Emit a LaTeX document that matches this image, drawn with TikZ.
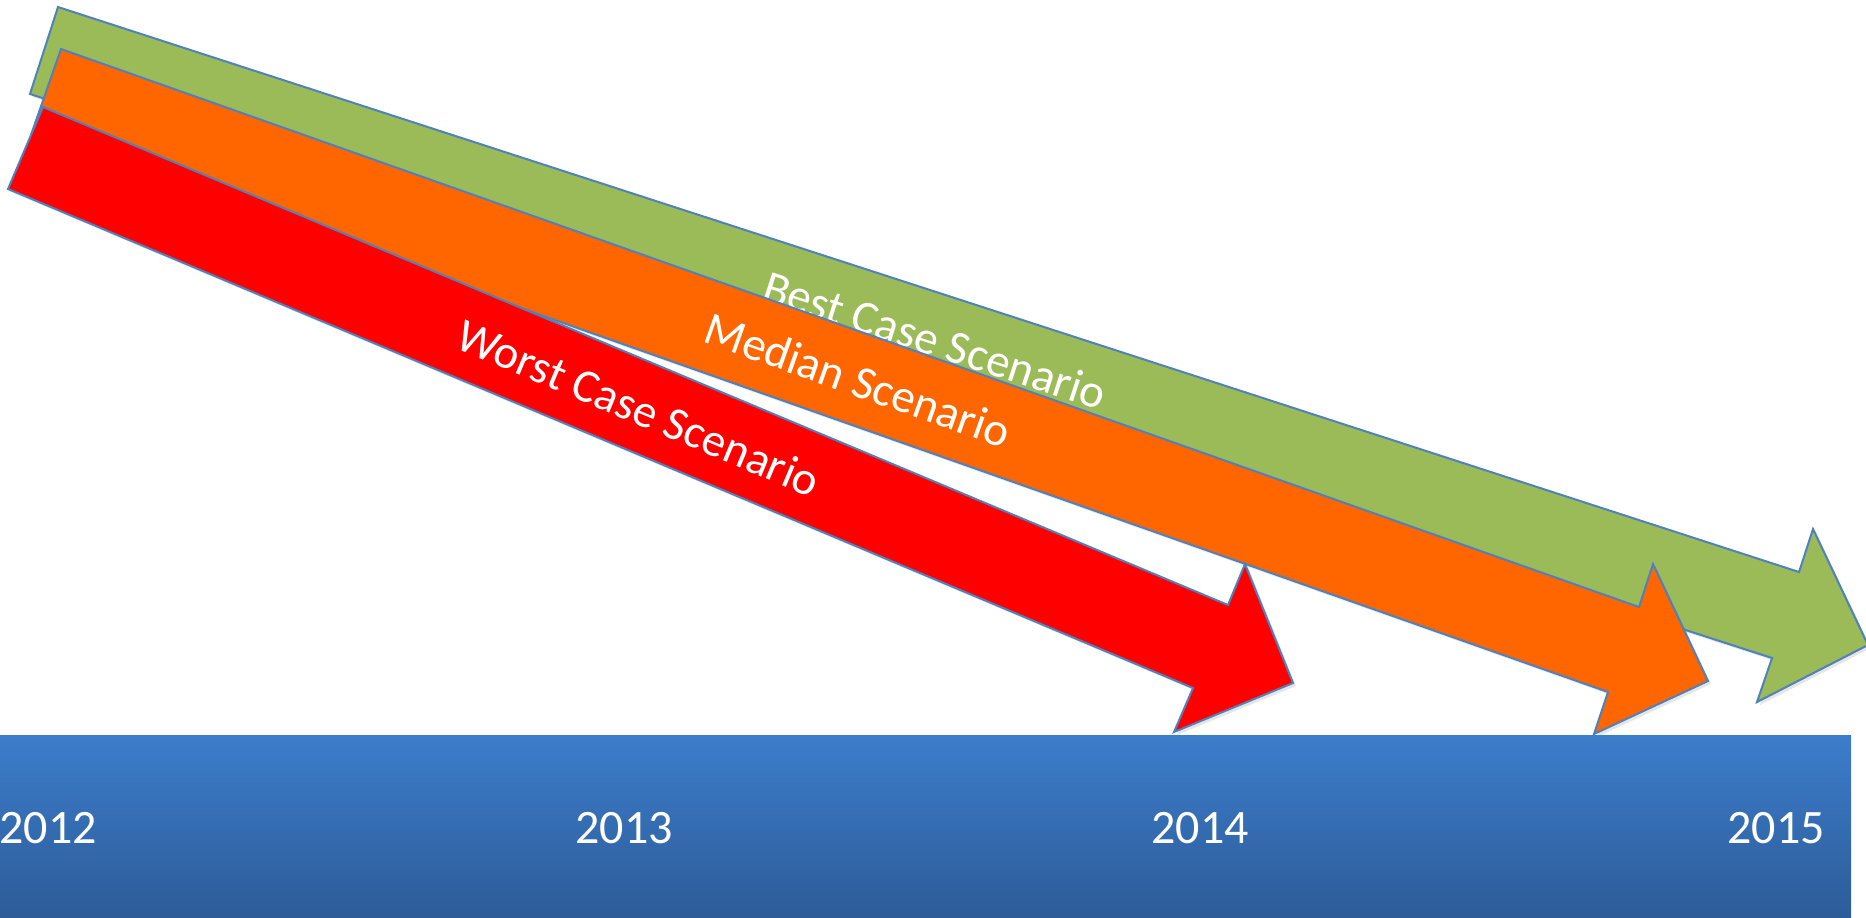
\documentclass[tikz,border=0pt]{standalone}
\usepackage{fontspec}
\setmainfont{Carlito}
\usepackage{xcolor}
\usetikzlibrary{shadows}
\definecolor{bestgreen}{RGB}{155,187,89}
\definecolor{medorange}{RGB}{255,102,0}
\definecolor{worstred}{RGB}{255,0,0}
\definecolor{edgeblue}{RGB}{79,129,189}
\definecolor{bartop}{RGB}{60,125,203}
\definecolor{barbottom}{RGB}{45,92,152}

\begin{document}
\begin{tikzpicture}[x=0.5pt,y=-0.5pt,
    scenario/.style={draw=edgeblue,line width=1pt,line join=miter,
        drop shadow={opacity=0.2,shadow xshift=1.5pt,shadow yshift=-1.5pt}},
    scenlabel/.style={text=white,inner sep=0pt,font=\fontsize{23.5}{28}\selectfont},
    yearlabel/.style={text=white,inner sep=0pt,font=\fontsize{24}{29}\selectfont}]
    \useasboundingbox (0,0) rectangle (1866,917);
    % timeline bar
    \shade[top color=bartop,bottom color=barbottom] (0,735) rectangle (1851,917);
    \foreach \yr [count=\i from 0] in {2012,2013,2014,2015}
        \node[yearlabel] (y\yr) at (48+576*\i,828) {\yr};
    % best case
    \filldraw[scenario,fill=bestgreen] (58,7) -- (1799,572) -- (1813,529) -- (1868,645)
        -- (1757,702) -- (1772,658) -- (30,94) -- cycle;
    \node[scenlabel,rotate=-18] (best) at (935,340) {Best Case Scenario};
    % median
    \filldraw[scenario,fill=medorange] (61,49) -- (1639,607) -- (1653,564) -- (1708,681)
        -- (1594,734) -- (1608,692) -- (31,135) -- cycle;
    \node[scenlabel,rotate=-19.5] (median) at (858,380) {Median Scenario};
    % worst case
    \filldraw[scenario,fill=worstred] (43,107) -- (1228,605) -- (1245,564) -- (1293,683)
        -- (1174,732) -- (1193,688) -- (8,189) -- cycle;
    \node[scenlabel,rotate=-22.8] (worst) at (639,408) {Worst Case Scenario};
\end{tikzpicture}
\end{document}
